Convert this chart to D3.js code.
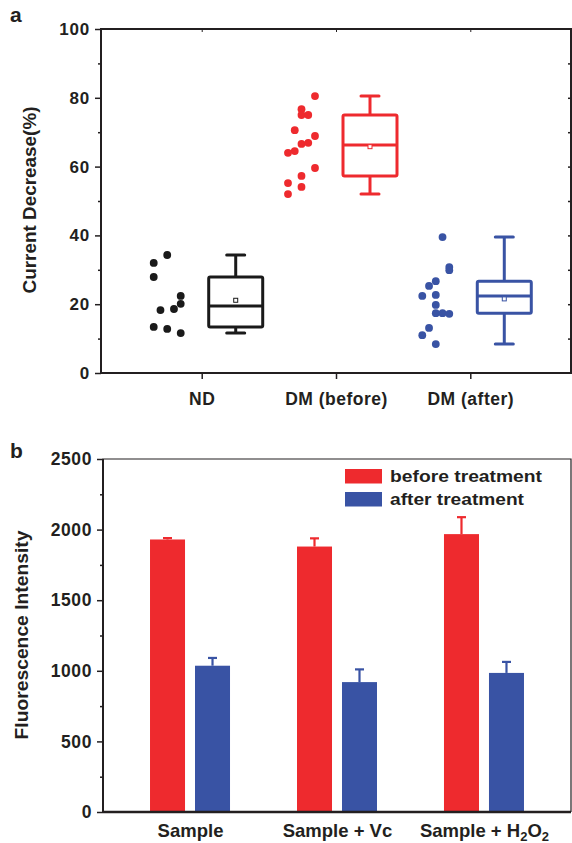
<!DOCTYPE html>
<meta charset="utf-8">
<html>
<head>
<title>Current decrease and fluorescence</title>
<script src="https://d3js.org/d3.v7.min.js"></script>
<style>
  body { margin: 0; background: #fff; }
  svg text { font-family: "Liberation Sans", Arial, sans-serif; font-weight: bold; fill: #231f20; }
</style>
</head>
<body>
<div id="chart"></div>
<script>
// ---- panel a data ----
var groups = ["ND", "DM (before)", "DM (after)"];
var ndValues = [34.3, 32, 27.9, 22.4, 20.1, 18.6, 18.3, 13.4, 12.8, 11.6];
var ndSlots  = [2, 0, 0, 4, 4, 3, 1, 0, 2, 4];
var dmBeforeValues = [80.5, 76.7, 75, 75, 70.6, 68.9, 66.6, 66.9, 64.5, 64, 59.6, 57.3, 55.2, 54.1, 52];
var dmBeforeSlots  = [4, 2, 2, 3, 1, 4, 2, 3, 1, 0, 4, 2, 0, 2, 0];
var dmAfterValues = [39.5, 30.8, 29.9, 26.7, 25.3, 22.4, 22.7, 19.8, 17.4, 17.4, 17.2, 13.1, 11, 8.4];
var dmAfterSlots  = [3, 4, 4, 2, 1, 0, 2, 2, 2, 3, 4, 1, 0, 2];
// box quartiles: [q1, median, q3]
var boxQuartiles = [[13.4, 19.5, 27.9], [57.3, 66.3, 75], [17.4, 22.4, 26.7]];
var yTicksA = [0, 20, 40, 60, 80, 100];

// ---- panel b data ----
var samples = ["Sample", "Sample + Vc", "Sample + H2O2"];
var series = ["before treatment", "after treatment"];
var beforeMeans = [1930, 1880, 1968];
var beforeErr = [10, 58, 120];
var afterMeans = [1036, 920, 985];
var afterErr = [55, 90, 78];
var yTicksB = [0, 500, 1000, 1500, 2000, 2500];

var colA = ["#1a1a1a", "#ee2a2e", "#3953a4"];
var colB = ["#ee2a2e", "#3953a4"];
var ink = "#231f20";

var svg = d3.select("#chart").append("svg")
  .attr("width", 572).attr("height", 843);

// =============== panel a ===============
var ya = d3.scaleLinear().domain([0, 100]).range([373, 29]);
var xa = d3.scalePoint().domain(groups).range([101, 571]).padding(0.75);
var slot = d3.scaleLinear().domain([0, 4]).range([-48, -21]);

var ga = svg.append("g");

// frame
ga.append("rect").attr("x", 101).attr("y", 29).attr("width", 470).attr("height", 344)
  .attr("fill", "none").attr("stroke", ink).attr("stroke-width", 2);

// left axis, major + minor
var axA = ga.append("g").attr("transform", "translate(101,0)")
  .call(d3.axisLeft(ya).tickValues(yTicksA).tickSize(6).tickPadding(5));
axA.selectAll("text").style("font-size", "17px").style("letter-spacing", "0.8px");
ga.append("g").attr("transform", "translate(101,0)")
  .call(d3.axisLeft(ya).tickValues(d3.range(10, 100, 20)).tickSize(3).tickFormat(""));
// right mirrored minor ticks
ga.append("g").attr("transform", "translate(571,0)")
  .call(d3.axisLeft(ya).tickValues(d3.range(10, 100, 10)).tickSize(3).tickFormat(""));
ga.selectAll(".domain").remove();
ga.selectAll(".tick line").attr("stroke", ink).attr("stroke-width", 1.5);

// bottom axis
var axAB = ga.append("g").attr("transform", "translate(0,373)")
  .call(d3.axisBottom(xa).tickSize(6).tickPadding(14));
axAB.select(".domain").remove();
axAB.selectAll("line").attr("stroke", ink).attr("stroke-width", 1.5);
axAB.selectAll("text").style("font-size", "17.5px").style("letter-spacing", "0.5px");
// top mirrored ticks
ga.append("g").attr("transform", "translate(0,29)")
  .call(d3.axisTop(xa).tickSize(-3).tickFormat(""))
  .call(function(g) { g.select(".domain").remove(); g.selectAll("line").attr("stroke", ink); });

ga.append("text").attr("x", 10).attr("y", 22).style("font-size", "21px").text("a");
ga.append("text")
  .attr("transform", "translate(36,200) rotate(-90)")
  .attr("text-anchor", "middle")
  .attr("textLength", 187).attr("lengthAdjust", "spacingAndGlyphs")
  .style("font-size", "17.5px").text("Current Decrease(%)");

var sets = [
  {values: ndValues, slots: ndSlots},
  {values: dmBeforeValues, slots: dmBeforeSlots},
  {values: dmAfterValues, slots: dmAfterSlots}
];

sets.forEach(function(s, i) {
  var cx = xa(groups[i]);
  var c = colA[i];
  var pts = s.values.map(function(v, k) { return {v: v, s: s.slots[k]}; });
  ga.append("g").selectAll("circle").data(pts).enter().append("circle")
    .attr("cx", function(d) { return cx + slot(d.s); })
    .attr("cy", function(d) { return ya(d.v); })
    .attr("r", 3.9).attr("fill", c);

  var q = boxQuartiles[i];
  var ext = d3.extent(s.values);
  var mean = d3.mean(s.values);
  var bx = cx + 34, hw = 27, cap = 9;
  var gb = ga.append("g").attr("stroke", c).attr("fill", "none").attr("stroke-width", 3);
  gb.append("line").attr("x1", bx).attr("x2", bx).attr("y1", ya(q[2])).attr("y2", ya(ext[1]));
  gb.append("line").attr("x1", bx).attr("x2", bx).attr("y1", ya(q[0])).attr("y2", ya(ext[0]));
  gb.append("line").attr("x1", bx - cap).attr("x2", bx + cap).attr("y1", ya(ext[1])).attr("y2", ya(ext[1]))
    .attr("stroke-linecap", "round");
  gb.append("line").attr("x1", bx - cap).attr("x2", bx + cap).attr("y1", ya(ext[0])).attr("y2", ya(ext[0]))
    .attr("stroke-linecap", "round");
  gb.append("rect").attr("x", bx - hw).attr("y", ya(q[2]))
    .attr("width", hw * 2).attr("height", ya(q[0]) - ya(q[2])).attr("rx", 1.5);
  gb.append("line").attr("x1", bx - hw).attr("x2", bx + hw).attr("y1", ya(q[1])).attr("y2", ya(q[1]));
  gb.append("rect").attr("x", bx - 2).attr("y", ya(mean) - 2).attr("width", 4).attr("height", 4)
    .attr("stroke-width", 1).attr("fill", "#fff");
});

// =============== panel b ===============
var yb = d3.scaleLinear().domain([0, 2500]).range([812, 459]);
var xb = d3.scalePoint().domain(samples).range([103, 571]).padding(0.592);
var xin = d3.scaleBand().domain(series).range([-40, 40]).paddingInner(0.222);

var gbp = svg.append("g");
gbp.append("path").attr("d", "M103,812V459H571V812")
  .attr("fill", "none").attr("stroke", ink).attr("stroke-width", 1.2);

var barData = [];
samples.forEach(function(s, i) {
  barData.push({s: s, k: 0, v: beforeMeans[i], e: beforeErr[i]});
  barData.push({s: s, k: 1, v: afterMeans[i], e: afterErr[i]});
});

gbp.append("g").selectAll("rect").data(barData).enter().append("rect")
  .attr("x", function(d) { return xb(d.s) + xin(series[d.k]); })
  .attr("y", function(d) { return yb(d.v); })
  .attr("width", xin.bandwidth())
  .attr("height", function(d) { return yb(0) - yb(d.v); })
  .attr("fill", function(d) { return colB[d.k]; });

var eb = gbp.append("g").selectAll("g").data(barData).enter().append("g")
  .attr("stroke", function(d) { return colB[d.k]; }).attr("stroke-width", 2.2);
eb.append("line")
  .attr("x1", function(d) { return xb(d.s) + xin(series[d.k]) + xin.bandwidth() / 2; })
  .attr("x2", function(d) { return xb(d.s) + xin(series[d.k]) + xin.bandwidth() / 2; })
  .attr("y1", function(d) { return yb(d.v); })
  .attr("y2", function(d) { return yb(d.v + d.e); });
eb.append("line")
  .attr("x1", function(d) { return xb(d.s) + xin(series[d.k]) + xin.bandwidth() / 2 - 4.5; })
  .attr("x2", function(d) { return xb(d.s) + xin(series[d.k]) + xin.bandwidth() / 2 + 4.5; })
  .attr("y1", function(d) { return yb(d.v + d.e); })
  .attr("y2", function(d) { return yb(d.v + d.e); });

// axes
var axB = gbp.append("g").attr("transform", "translate(103,0)")
  .call(d3.axisLeft(yb).tickValues(yTicksB).tickFormat(d3.format("d")).tickSize(6).tickPadding(5));
axB.select(".domain").remove();
axB.selectAll("text").style("font-size", "17.5px").style("letter-spacing", "0.6px");
gbp.append("g").attr("transform", "translate(103,0)")
  .call(d3.axisLeft(yb).tickValues(d3.range(250, 2500, 500)).tickSize(3).tickFormat(""))
  .select(".domain").remove();
gbp.selectAll(".tick line").attr("stroke", ink).attr("stroke-width", 1.5);
gbp.append("path").attr("d", "M103,812H571").attr("stroke", ink).attr("stroke-width", 2.5);
gbp.append("path").attr("d", "M103,812V459").attr("stroke", ink).attr("stroke-width", 2);

var axBB = gbp.append("g").attr("transform", "translate(0,812)")
  .call(d3.axisBottom(xb).tickSize(0).tickPadding(11).tickFormat(""));
axBB.select(".domain").remove();
axBB.selectAll(".tick").append("text")
  .attr("y", 25).attr("text-anchor", "middle")
  .style("font-size", "18.5px")
  .each(function(d) {
    var t = d3.select(this);
    if (d === "Sample + H2O2") {
      t.append("tspan").text("Sample + H");
      t.append("tspan").attr("dy", 4).style("font-size", "13px").text("2");
      t.append("tspan").attr("dy", -4).text("O");
      t.append("tspan").attr("dy", 4).style("font-size", "13px").text("2");
    } else {
      t.text(d);
    }
  });

gbp.append("text").attr("x", 10).attr("y", 458).style("font-size", "21px").text("b");
gbp.append("text")
  .attr("transform", "translate(28,635) rotate(-90)")
  .attr("text-anchor", "middle")
  .attr("textLength", 209).attr("lengthAdjust", "spacingAndGlyphs")
  .style("font-size", "18px").text("Fluorescence Intensity");

// legend
var lg = gbp.append("g").selectAll("g").data(series).enter().append("g")
  .attr("transform", function(d, i) { return "translate(345," + (469 + i * 23) + ")"; });
lg.append("rect").attr("width", 37).attr("height", 14.5)
  .attr("fill", function(d, i) { return colB[i]; });
lg.append("text").attr("x", 45).attr("y", 13)
  .attr("textLength", function(d, i) { return i === 0 ? 152 : 134; })
  .attr("lengthAdjust", "spacingAndGlyphs")
  .style("font-size", "17px").text(function(d) { return d; });
</script>
</body>
</html>
